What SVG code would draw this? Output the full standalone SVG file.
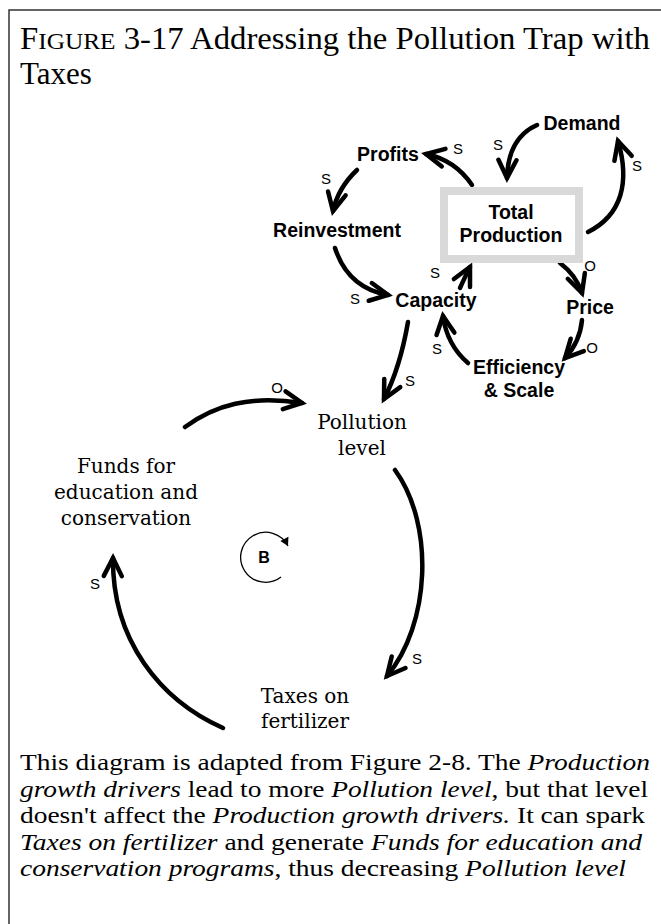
<svg xmlns="http://www.w3.org/2000/svg" width="661" height="924" viewBox="0 0 661 924">
<defs>
<style>
.node{font-family:"Liberation Sans",Arial,sans-serif;font-weight:bold;font-size:19.5px;text-anchor:middle;fill:#000}
.snode{font-family:"DejaVu Serif",serif;font-size:20px;text-anchor:middle;fill:#000}
.lbl{font-family:"Liberation Sans",Arial,sans-serif;font-size:15px;text-anchor:middle;fill:#000}
.link{fill:none;stroke:#000;stroke-width:4.5;stroke-linecap:round;marker-end:url(#arr)}
.title{font-family:"Liberation Serif","Times New Roman",serif;font-size:31px;fill:#000}
.para{font-family:"Liberation Serif","Times New Roman",serif;font-size:24px;fill:#000}
.it{font-style:italic}
</style>
<marker id="arr" markerUnits="userSpaceOnUse" markerWidth="40" markerHeight="40" refX="0" refY="0" orient="auto" viewBox="-25 -20 40 40" overflow="visible">
<path d="M-18,-9 L0,0 L-18,9" fill="none" stroke="#000" stroke-width="4.5" stroke-linecap="round" stroke-linejoin="miter"/>
</marker>
<marker id="barr" markerUnits="userSpaceOnUse" markerWidth="12" markerHeight="12" refX="0" refY="0" orient="auto" viewBox="-8 -6 12 12" overflow="visible">
<path d="M-8,-4.5 L0,0 L-8,4.5 Z" fill="#000"/>
</marker>
</defs>
<rect x="9" y="10" width="700" height="1000" fill="#fff" stroke="#333" stroke-width="1.5"/>
<g id="title">
<text class="title" x="20" y="49" textLength="630" lengthAdjust="spacingAndGlyphs">F<tspan font-size="24">IGURE</tspan> 3-17 Addressing the Pollution Trap with</text>
<text class="title" x="20" y="84">Taxes</text>
</g>
<g id="connectors">
<path class="link" d="M472,185 Q455,160 426,154"/>
<path class="link" d="M357,170 Q338,188 333,211"/>
<path class="link" d="M537,125 Q508,138 507,178"/>
<path class="link" d="M588,232 C622,215 630,182 618,141"/>
<path class="link" d="M335,248 Q348,288 388,295"/>
<path class="link" d="M460,288 Q464,279 470,267"/>
<path class="link" d="M560,263 Q576,275 582,293"/>
<path class="link" d="M582,320 Q580,342 565,358"/>
<path class="link" d="M468,363 Q447,345 443,316"/>
<path class="link" d="M408,322 Q400,368 384,399"/>
<path class="link" d="M185,427 C215,405 250,395 302,403"/>
<path class="link" d="M395,470 C435,525 430,625 387,676"/>
<path class="link" d="M223,728 C160,700 112,640 113,558"/>
</g>
<g id="labels">
<text class="lbl" x="458" y="154">S</text>
<text class="lbl" x="326" y="184">S</text>
<text class="lbl" x="498" y="150">S</text>
<text class="lbl" x="637" y="171">S</text>
<text class="lbl" x="355" y="304">S</text>
<text class="lbl" x="435" y="278">S</text>
<text class="lbl" x="590" y="271">O</text>
<text class="lbl" x="592" y="353">O</text>
<text class="lbl" x="437" y="354">S</text>
<text class="lbl" x="410" y="386">S</text>
<text class="lbl" x="277" y="393">O</text>
<text class="lbl" x="417" y="664">S</text>
<text class="lbl" x="95" y="589">S</text>
</g>
<g id="demand"><text class="node" x="582" y="130">Demand</text></g>
<g id="profits"><text class="node" x="388" y="161">Profits</text></g>
<g id="reinvestment"><text class="node" x="337" y="237">Reinvestment</text></g>
<g id="total-production">
<rect x="444" y="191" width="135" height="68" fill="#fff" stroke="#d9d9d9" stroke-width="8"/>
<text class="node" x="511" y="219">Total</text>
<text class="node" x="511" y="242">Production</text>
</g>
<g id="capacity"><text class="node" x="436" y="307">Capacity</text></g>
<g id="price"><text class="node" x="590" y="314">Price</text></g>
<g id="efficiency"><text class="node" x="519" y="374">Efficiency</text><text class="node" x="519" y="397">&amp; Scale</text></g>
<g id="pollution"><text class="snode" x="362" y="429">Pollution</text><text class="snode" x="362" y="455">level</text></g>
<g id="funds"><text class="snode" x="126" y="473">Funds for</text><text class="snode" x="126" y="499">education and</text><text class="snode" x="126" y="525">conservation</text></g>
<g id="taxes"><text class="snode" x="305" y="703">Taxes on</text><text class="snode" x="305" y="728">fertilizer</text></g>
<g id="loop-b">
<path d="M281,577 A25,25 0 1 1 288,546" fill="none" stroke="#000" stroke-width="1.3" marker-end="url(#barr)"/>
<text x="264" y="563" font-family="Liberation Sans,Arial,sans-serif" font-weight="bold" font-size="16" text-anchor="middle">B</text>
</g>
<g id="caption">
<text class="para" x="20" y="770" textLength="630" lengthAdjust="spacingAndGlyphs">This diagram is adapted from Figure 2-8. The <tspan class="it">Production</tspan></text>
<text class="para" x="20" y="797" textLength="628" lengthAdjust="spacingAndGlyphs"><tspan class="it">growth drivers</tspan> lead to more <tspan class="it">Pollution level</tspan>, but that level</text>
<text class="para" x="20" y="823" textLength="625" lengthAdjust="spacingAndGlyphs">doesn't affect the <tspan class="it">Production growth drivers.</tspan> It can spark</text>
<text class="para" x="20" y="850" textLength="622" lengthAdjust="spacingAndGlyphs"><tspan class="it">Taxes on fertilizer</tspan> and generate <tspan class="it">Funds for education and</tspan></text>
<text class="para" x="20" y="876" textLength="606" lengthAdjust="spacingAndGlyphs"><tspan class="it">conservation programs</tspan>, thus decreasing <tspan class="it">Pollution level</tspan></text>
</g>
</svg>
